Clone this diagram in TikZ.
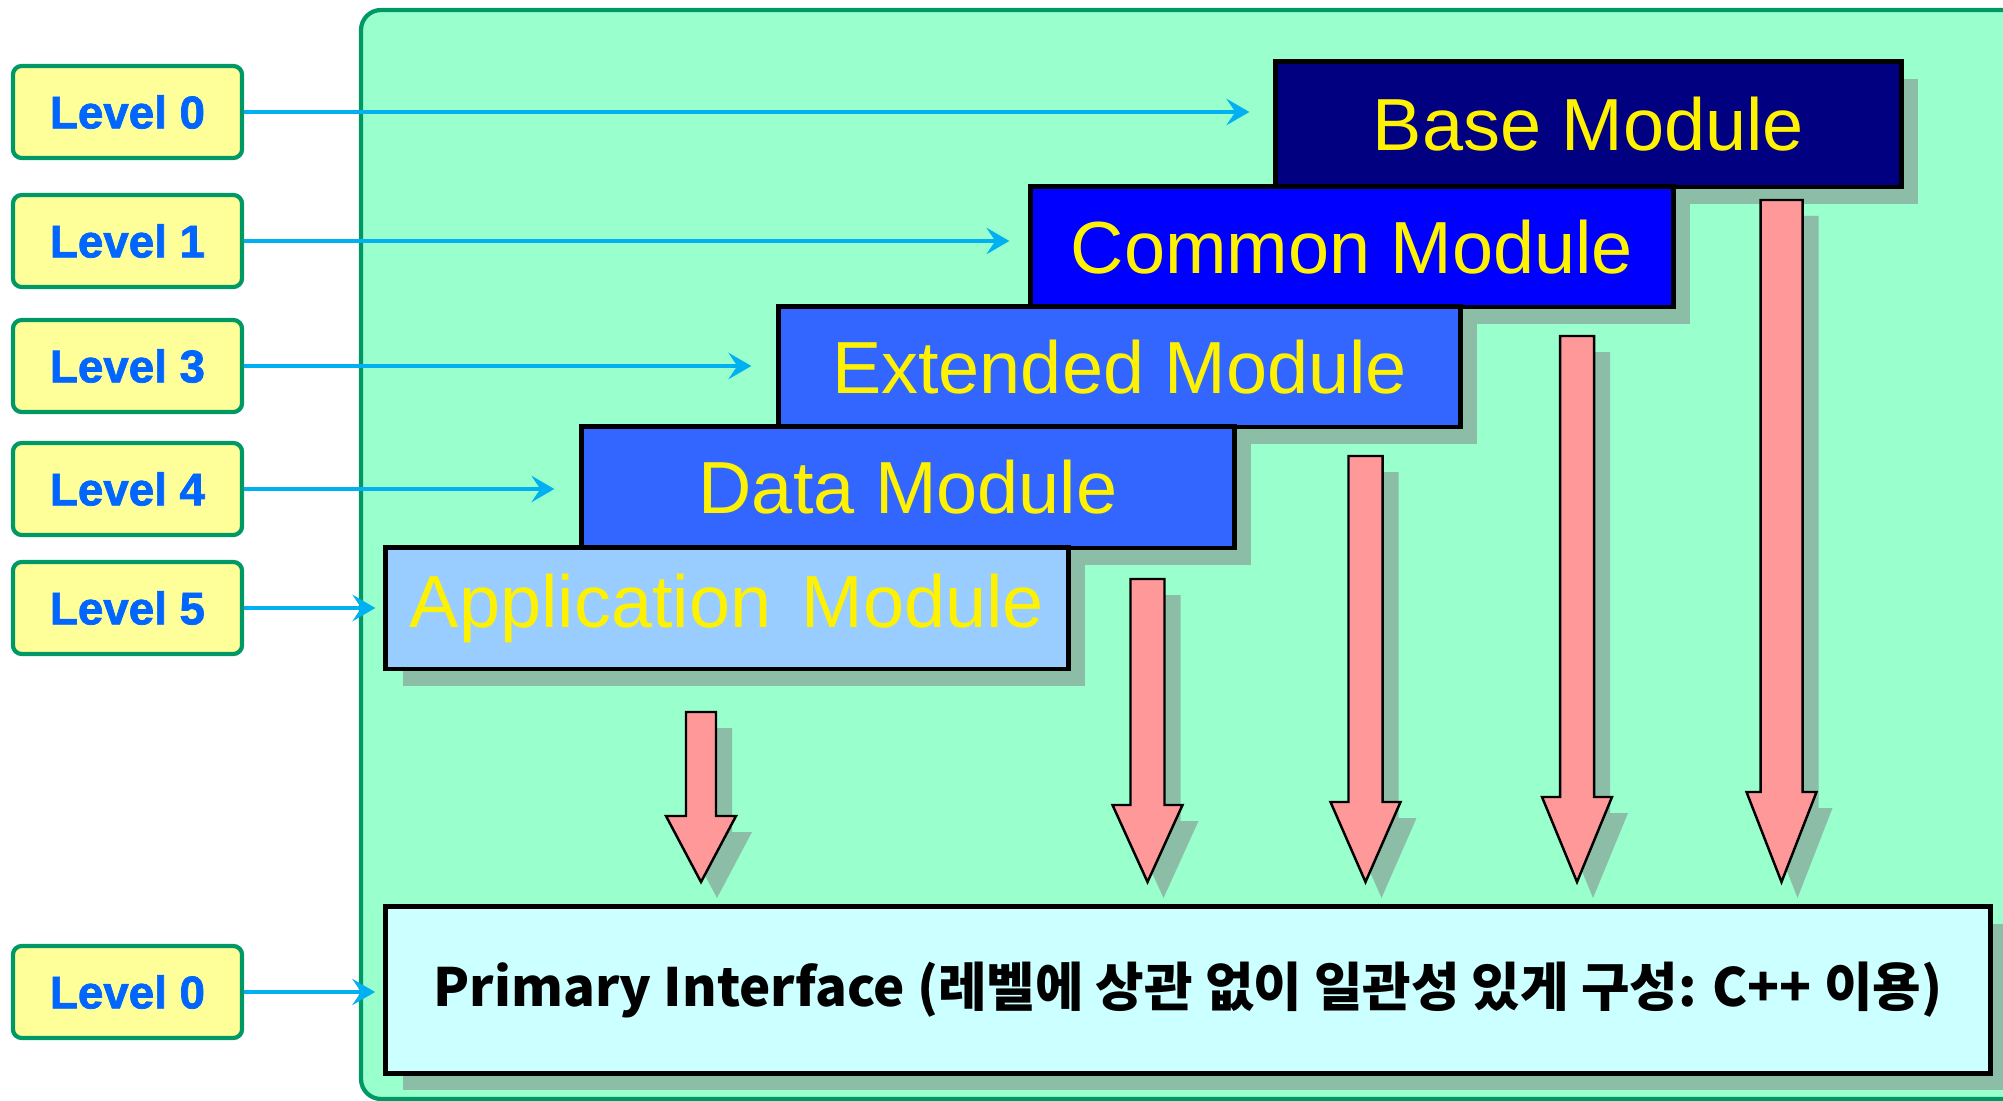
\documentclass[tikz,border=0pt]{standalone}
\usepackage{fontspec}
\setmainfont{Liberation Sans}
\newfontfamily\krfont{Noto Sans CJK KR}
\newfontfamily\levelfont{Liberation Sans Bold}[FakeBold=1.6]
\usetikzlibrary{calc,shadows,arrows.meta}
\definecolor{panelgreen}{RGB}{153,255,204}
\definecolor{darkgreen}{RGB}{0,153,102}
\definecolor{levelyellow}{RGB}{255,255,153}
\definecolor{levelblue}{RGB}{0,102,255}
\definecolor{linkcyan}{RGB}{0,176,240}
\definecolor{shadegreen}{RGB}{140,189,166}
\definecolor{basenavy}{RGB}{0,0,128}
\definecolor{commonblue}{RGB}{0,0,255}
\definecolor{extblue}{RGB}{51,102,255}
\definecolor{appblue}{RGB}{153,204,255}
\definecolor{ifacecyan}{RGB}{204,255,255}
\definecolor{arrowpink}{RGB}{255,153,153}
\def\pinkarrow(#1:#2:#3:#4){\draw[pinkarr] ({#1-#3},#2) -- ({#1+#3},#2) -- ({#1+#3},#4) -- ({#1+35},#4) -- (#1,882) -- ({#1-35},#4) -- ({#1-#3},#4) -- cycle;}
\tikzset{
  levelbox/.style={draw=darkgreen, line width=1.2pt, fill=levelyellow, rounded corners=2.5pt,
    minimum width=2.29cm, minimum height=0.92cm, inner sep=0pt, text=levelblue,
    font=\levelfont\fontsize{13pt}{15pt}\selectfont},
  module/.style={draw=black, line width=1.4pt, inner sep=0pt, text=yellow,
    font=\fontsize{21pt}{25pt}\selectfont,
    drop shadow={shadow xshift=0.17cm, shadow yshift=-0.17cm, fill=shadegreen, opacity=1}},
  link/.style={draw=linkcyan, line width=1.1pt, -{Stealth[length=6.5pt,width=7.5pt,inset=2.5pt]}},
  pinkarr/.style={draw=black, line width=0.7pt, fill=arrowpink, line join=miter,
    drop shadow={shadow xshift=0.16cm, shadow yshift=-0.16cm, fill=shadegreen, opacity=1}}
}
\begin{document}
\begin{tikzpicture}[x=0.01cm, y=-0.01cm]
		%%%%% START %%%%%
		\useasboundingbox (0,0) rectangle (2003,1101);
		
		% big panel
		\draw[draw=darkgreen, line width=1.2pt, fill=panelgreen, rounded corners=0.2cm] (361,10) rectangle (2060,1099);
		
		% level labels
		\node[levelbox] (lv0) at (127.5,112) {Level 0};
		\node[levelbox] (lv1) at (127.5,241) {Level 1};
		\node[levelbox] (lv3) at (127.5,366) {Level 3};
		\node[levelbox] (lv4) at (127.5,489) {Level 4};
		\node[levelbox] (lv5) at (127.5,608) {Level 5};
		\node[levelbox] (lvb) at (127.5,992) {Level 0};
		
		% modules, back to front
		\node[module, fill=basenavy, minimum width=6.25cm, minimum height=1.25cm] (base) at (1588.5,124.5) {Base Module};
		\node[module, fill=commonblue, minimum width=6.42cm, minimum height=1.2cm] (common) at (1352,247) {Common Module};
		\node[module, fill=extblue, minimum width=6.81cm, minimum height=1.2cm] (ext) at (1119.5,367) {Extended Module};
		\node[module, fill=extblue, minimum width=6.52cm, minimum height=1.21cm] (data) at (908,487.5) {Data Module};
		\node[module, fill=appblue, minimum width=6.82cm, minimum height=1.21cm] (app) at (727,608.5) {Application\hspace{0.1cm} Module};
		
		\node[module, fill=ifacecyan, text=black, minimum width=16.04cm, minimum height=1.66cm,
		  font=\krfont\bfseries\fontsize{15pt}{18pt}\selectfont] (iface) at (1188,990)
		  {Primary Interface (레벨에 상관 없이 일관성 있게 구성: C++ 이용)};
		
		% pink arrows down to the interface
		\pinkarrow(701:712:15:816)
		\pinkarrow(1147.5:579:17:805)
		\pinkarrow(1365.5:456:17:802)
		\pinkarrow(1577:336:17:797)
		\pinkarrow(1781.5:200:21:792)
		
		% level links
		\draw[link] (lv0.east) -- ($(lv0.east -| base.west)+(-24,0)$);
		\draw[link] (lv1.east) -- ($(lv1.east -| common.west)+(-19,0)$);
		\draw[link] (lv3.east) -- ($(lv3.east -| ext.west)+(-25,0)$);
		\draw[link] (lv4.east) -- ($(lv4.east -| data.west)+(-25,0)$);
		\draw[link] (lv5.east) -- ($(lv5.east -| app.west)+(-8,0)$);
		\draw[link] (lvb.east) -- ($(lvb.east -| iface.west)+(-8,0)$);
		
		%%%%% END %%%%%
\end{tikzpicture}
\end{document}
